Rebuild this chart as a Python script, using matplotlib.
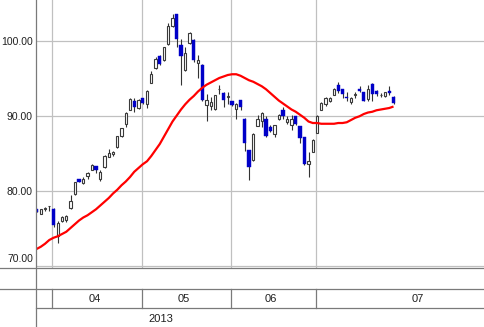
import matplotlib
matplotlib.use('Agg')
import matplotlib.pyplot as plt
from matplotlib.transforms import blended_transform_factory, ScaledTranslation
from matplotlib.lines import Line2D
import numpy as np

# ---- data ----
opens = [77.6, 77.0, 77.7, 78.0, 77.7, 74.0, 76.0, 76.2, 77.8, 79.6,
         81.6, 81.1, 82.0, 82.9, 83.4, 81.6, 83.2, 84.6, 85.0, 85.9,
         87.4, 89.0, 90.9, 92.0, 91.1, 92.4, 91.7, 94.5, 96.4, 98.1,
         97.5, 99.6, 102.0, 103.6, 99.5, 96.2, 99.8, 100.2, 97.1, 96.8,
         91.5, 91.4, 91.0, 93.6, 93.1, 92.6, 92.0, 91.0, 92.2, 89.7,
         85.5, 84.2, 88.7, 89.4, 89.7, 88.6, 87.7, 89.6, 90.8, 89.3,
         88.9, 90.0, 88.7, 87.3, 83.6, 85.3, 87.8, 90.9, 91.6, 92.1,
         92.8, 94.2, 93.6, 92.6, 91.9, 92.9, 93.6, 93.2, 92.3, 94.3,
         93.4, 92.8, 92.75, 93.4, 92.6]
highs = [77.6, 77.7, 77.9, 78.1, 77.8, 76.0, 76.7, 76.8, 79.5, 81.3,
         81.7, 81.9, 82.6, 83.6, 83.4, 82.9, 84.8, 85.6, 85.4, 87.4,
         88.5, 90.6, 92.4, 92.4, 92.3, 92.5, 93.5, 96.0, 97.9, 98.2,
         99.3, 102.4, 103.6, 103.6, 100.3, 99.2, 101.3, 100.3, 98.2, 97.0,
         93.0, 92.6, 92.9, 94.2, 93.3, 93.3, 92.0, 91.8, 92.2, 89.8,
         85.5, 87.8, 90.2, 90.6, 90.0, 88.8, 88.9, 90.3, 91.2, 90.0,
         90.2, 90.1, 88.7, 87.3, 85.2, 87.0, 90.2, 91.9, 92.6, 92.6,
         93.8, 94.6, 93.7, 93.2, 92.6, 93.2, 94.0, 93.2, 94.2, 94.4,
         93.5, 93.1, 93.3, 94.1, 92.7]
lows = [77.3, 77.0, 77.4, 77.4, 75.3, 73.1, 75.9, 75.9, 77.7, 79.5,
        81.2, 81.0, 81.7, 82.9, 82.5, 81.4, 83.1, 84.6, 84.7, 85.8,
        87.3, 88.6, 90.8, 90.6, 91.0, 91.7, 91.1, 94.5, 96.3, 96.9,
        97.4, 99.5, 101.9, 99.3, 94.2, 96.0, 99.7, 97.3, 95.1, 92.0,
        89.4, 90.8, 90.9, 93.0, 91.3, 91.6, 91.4, 89.6, 90.8, 85.4,
        81.5, 84.1, 88.7, 88.6, 87.2, 87.9, 87.3, 89.5, 89.7, 89.0,
        88.2, 88.9, 86.4, 83.5, 81.9, 85.2, 87.8, 90.8, 91.4, 91.9,
        92.8, 93.1, 92.5, 92.0, 91.7, 92.5, 93.3, 92.0, 92.0, 92.1,
        92.7, 92.6, 92.6, 92.8, 91.6]
closes = [77.3, 77.6, 77.8, 78.0, 75.5, 75.8, 76.6, 76.7, 78.7, 81.2,
          81.25, 81.7, 82.5, 83.5, 82.9, 82.6, 84.7, 85.1, 85.3, 87.4,
          88.4, 90.5, 92.3, 91.3, 92.2, 91.8, 93.4, 95.6, 97.6, 97.0,
          99.2, 102.0, 103.1, 100.3, 98.1, 98.4, 101.1, 97.5, 97.5, 92.2,
          92.2, 91.9, 92.8, 93.7, 92.2, 92.7, 91.5, 91.7, 91.3, 86.5,
          83.3, 87.7, 89.7, 90.5, 87.4, 88.0, 88.9, 90.2, 90.0, 89.6,
          89.7, 89.0, 87.1, 83.6, 84.0, 86.8, 90.0, 91.8, 92.4, 92.5,
          93.6, 93.4, 93.0, 92.5, 92.5, 93.0, 93.4, 92.0, 93.7, 93.0,
          93.0, 92.9, 93.2, 93.1, 91.8]
ma25 = [72.3, 72.6, 73.0, 73.5, 73.8, 74.0, 74.3, 74.6, 75.1, 75.6,
        76.1, 76.5, 76.8, 77.2, 77.6, 78.1, 78.6, 79.1, 79.7, 80.2,
        80.8, 81.3, 81.9, 82.6, 83.1, 83.6, 84.0, 84.7, 85.5, 86.3,
        87.3, 88.3, 89.3, 90.1, 90.9, 91.6, 92.2, 92.7, 93.3, 93.8,
        94.2, 94.5, 94.8, 95.1, 95.3, 95.5, 95.6, 95.6, 95.4, 95.1,
        94.8, 94.6, 94.3, 94.0, 93.6, 93.1, 92.6, 92.1, 91.7, 91.3,
        90.9, 90.6, 90.2, 89.8, 89.3, 89.1, 89.1, 89.0, 89.0, 89.0,
        89.0, 89.1, 89.1, 89.2, 89.5, 89.8, 90.0, 90.3, 90.5, 90.6,
        90.8, 90.9, 91.0, 91.1, 91.3]
month_labels = ['04', '05', '06', '07']
month_start_idx = [4, 25, 46, 66]
year_label = '2013'
y_ticks = [70, 80, 90, 100]
y_tick_labels = ['70.00', '80.00', '90.00', '100.00']

# ---- styling ----
W, H = 484, 327
FONT = ['Liberation Sans', 'DejaVu Sans']
plt.rcParams['font.family'] = FONT
GRID = '#c0c0c0'
LINE = '#7a7a7a'
TXT = '#202020'
BLUE = '#0000c8'
FS = 7.5

fig = plt.figure(figsize=(W / 100, H / 100), dpi=100)
fig.patch.set_facecolor('white')

def fx(px):
    return px / W

def fy(py):
    return 1 - py / H

ax = fig.add_axes([fx(36), fy(268.3), 1 - fx(36), 268.3 / H])
for s in ax.spines.values():
    s.set_visible(False)

x = np.arange(len(opens))
o = np.array(opens); c = np.array(closes)
hi = np.array(highs); lo = np.array(lows)
up = c >= o
bottom = np.minimum(o, c)
height = np.maximum(np.abs(c - o), 0.06)

ax.vlines(x, lo, hi, color='#333333', lw=0.8, zorder=2)
ax.bar(x[up], height[up], bottom=bottom[up], width=0.52, facecolor='white',
       edgecolor='#3a3a3a', lw=0.8, zorder=3)
ax.bar(x[~up], height[~up], bottom=bottom[~up], width=0.72, facecolor=BLUE,
       edgecolor=BLUE, lw=0.3, zorder=3)
ax.plot(x, ma25, color='#ff0000', lw=1.6, zorder=4, solid_capstyle='butt')

ax.set_xlim(-0.12, 105.29)
ax.set_ylim(69.73, 105.5)

for yt in y_ticks:
    ax.axhline(yt, color=GRID, lw=0.9, zorder=1)
bounds = [m - 0.25 for m in month_start_idx]
for b in bounds:
    ax.axvline(b, color=GRID, lw=0.9, zorder=1)

ax.set_xticks([])
ax.set_yticks(y_ticks)
ax.set_yticklabels(y_tick_labels)
ax.tick_params(axis='y', length=0, pad=2.2, labelsize=FS, labelcolor=TXT)
labs = ax.get_yticklabels()
labs[0].set_transform(labs[0].get_transform() +
                      ScaledTranslation(0, 8 / 100, fig.dpi_scale_trans))

# ---- frame lines and lower bands ----
def hline(py, x0, x1, color=LINE):
    fig.add_artist(Line2D([fx(x0), fx(x1)], [fy(py), fy(py)],
                          transform=fig.transFigure, color=color, lw=0.9))

hline(268.3, 0, W)
hline(288.5, 0, W)
hline(308.0, 36, W)
fig.add_artist(Line2D([fx(36), fx(36)], [0, 1], transform=fig.transFigure,
                      color=LINE, lw=0.9))

bt = blended_transform_factory(ax.transData, fig.transFigure)
for b in bounds:
    fig.add_artist(Line2D([b, b], [fy(288.5), fy(308.0)], transform=bt,
                          color=LINE, lw=0.9))

centers = [(bounds[k] + bounds[k + 1]) / 2 - 0.6 for k in range(len(bounds) - 1)]
centers.append(bounds[-1] + 24.0)
for lab, cx in zip(month_labels, centers):
    fig.text(cx, fy(298.5), lab, transform=bt, ha='center', va='center',
             fontsize=FS + 0.5, color=TXT)

fig.text(fx(161), fy(318.5), year_label, ha='center', va='center',
         fontsize=FS + 0.5, color=TXT)

fig.savefig('out.png', dpi=100, facecolor='white')
